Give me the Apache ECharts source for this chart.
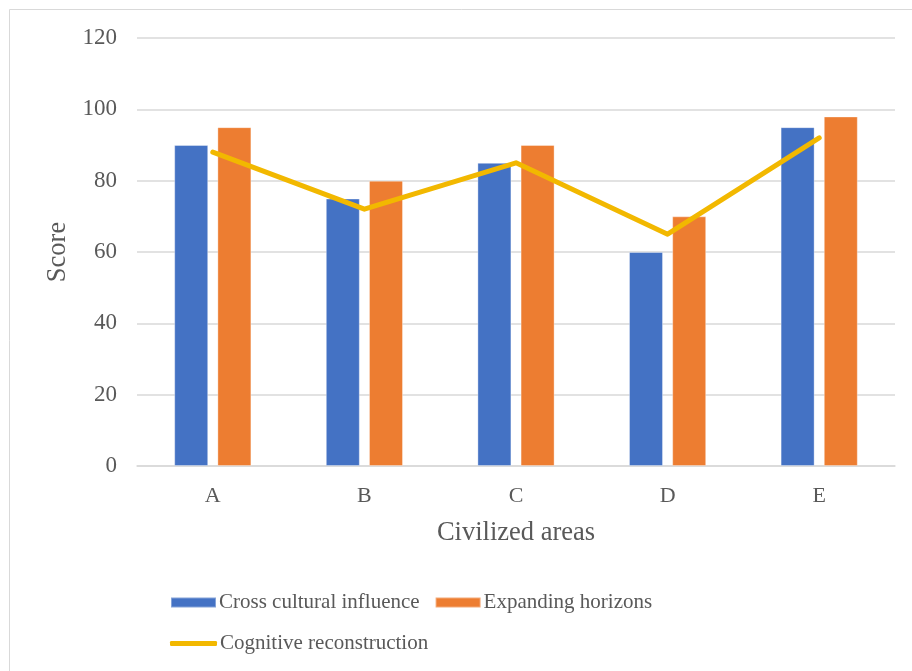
<!DOCTYPE html>
<html>
<head>
<meta charset="utf-8">
<script src="https://cdn.jsdelivr.net/npm/echarts@6/dist/echarts.min.js"></script>
<style>
  html, body { margin: 0; padding: 0; background: #fff; }
  #chart { width: 912px; height: 671px; }
</style>
</head>
<body>
<div id="chart"></div>
<script>
// Civilized areas and their scores
const categories = ['A', 'B', 'C', 'D', 'E'];
const crossCultural = [90, 75, 85, 60, 95];
const expandingHorizons = [95, 80, 90, 70, 98];
const cognitiveReconstruction = [88, 72, 85, 65, 92];

const FONT = '"Liberation Serif", "Times New Roman", serif';
const TEXT = '#595959';
const GRID = '#d9d9d9';

const chart = echarts.init(document.getElementById('chart'), null, { renderer: 'canvas' });

chart.setOption({
  backgroundColor: '#fff',
  animation: false,
  textStyle: { fontFamily: FONT, color: TEXT },
  graphic: [{
    type: 'rect',
    shape: { x: 9.5, y: 9.5, width: 920, height: 680 },
    style: { fill: 'none', stroke: GRID, lineWidth: 1 },
    silent: true
  }],
  grid: { left: 137, right: 17, top: 38, bottom: 205 },
  legend: [{
    left: 165, top: 587,
    itemWidth: 45, itemHeight: 10, itemGap: 15,
    textStyle: { fontFamily: FONT, fontSize: 21, color: TEXT, padding: [0, 0, 0, -2] },
    data: [
      { name: 'Cross cultural influence', icon: 'rect' },
      { name: 'Expanding horizons', icon: 'rect' }
    ]
  }, {
    left: 165, top: 628,
    itemWidth: 47, itemHeight: 5,
    textStyle: { fontFamily: FONT, fontSize: 21, color: TEXT, padding: [0, 0, 0, -2] },
    data: [{ name: 'Cognitive reconstruction', icon: 'roundRect' }]
  }],
  xAxis: {
    type: 'category',
    data: categories,
    name: 'Civilized areas',
    nameLocation: 'middle',
    nameGap: 54,
    nameTextStyle: { fontFamily: FONT, fontSize: 26.5, color: TEXT },
    axisLine: { lineStyle: { color: GRID, width: 1.5 } },
    axisTick: { show: false },
    axisLabel: { fontFamily: FONT, fontSize: 22, color: TEXT, margin: 19 }
  },
  yAxis: {
    type: 'value',
    min: 0, max: 120, interval: 20,
    name: 'Score',
    nameLocation: 'middle',
    nameGap: 62,
    nameTextStyle: { fontFamily: FONT, fontSize: 26.5, color: TEXT },
    axisLine: { show: false },
    axisTick: { show: false },
    axisLabel: { fontFamily: FONT, fontSize: 23, color: TEXT, margin: 20 },
    splitLine: { lineStyle: { color: GRID, width: 1.5 } }
  },
  series: [{
    name: 'Cross cultural influence',
    type: 'bar',
    data: crossCultural,
    barWidth: 34,
    barGap: '27%',
    itemStyle: { color: '#4472c4', borderColor: 'rgba(255,255,255,0.35)', borderWidth: 1 }
  }, {
    name: 'Expanding horizons',
    type: 'bar',
    data: expandingHorizons,
    barWidth: 34,
    barGap: '27%',
    itemStyle: { color: '#ed7d31', borderColor: 'rgba(255,255,255,0.35)', borderWidth: 1 }
  }, {
    name: 'Cognitive reconstruction',
    type: 'line',
    data: cognitiveReconstruction,
    symbol: 'none',
    z: 5,
    lineStyle: { color: '#f2b800', width: 5, cap: 'round', join: 'round' },
    itemStyle: { color: '#f2b800' }
  }]
});
</script>
</body>
</html>
